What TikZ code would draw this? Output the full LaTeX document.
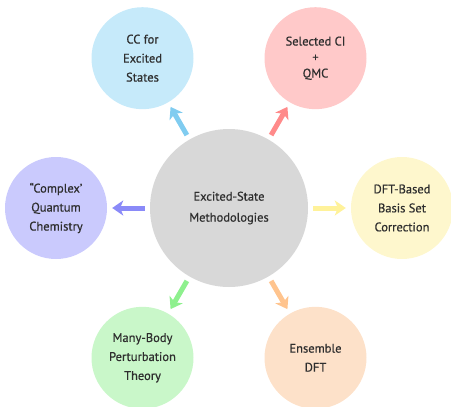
\documentclass[tikz,border=0pt]{standalone}
\usepackage{fontspec}
\setmainfont[FakeBold=0.6]{PT Sans}
\usetikzlibrary{arrows.meta}
\definecolor{centerfill}{HTML}{D8D8D8}
\definecolor{txt}{HTML}{2E2E2E}
\definecolor{bluefill}{HTML}{C6EAFA}
\definecolor{bluearr}{HTML}{80CCF0}
\definecolor{pinkfill}{HTML}{FFC9C9}
\definecolor{pinkarr}{HTML}{FF8A8A}
\definecolor{lavfill}{HTML}{CACAFD}
\definecolor{lavarr}{HTML}{8A8AF8}
\definecolor{yelfill}{HTML}{FEF7CD}
\definecolor{yelarr}{HTML}{FFF29A}
\definecolor{grnfill}{HTML}{C9F7C9}
\definecolor{grnarr}{HTML}{8EF08E}
\definecolor{pchfill}{HTML}{FDE1C9}
\definecolor{pcharr}{HTML}{FFC48E}
\begin{document}
\begin{tikzpicture}[x=1pt,y=-1pt,
  hub/.style={circle, fill=centerfill, minimum size=158pt, inner sep=0pt, align=center,
    text=txt, font=\fontsize{12.5}{21}\selectfont},
  sat/.style={circle, minimum size=102pt, inner sep=0pt, align=center,
    text=txt, font=\fontsize{12.5}{19}\selectfont},
  arr/.style={line width=5pt, -{Stealth[length=11pt,width=15pt,inset=3pt]},
    shorten <=5pt, shorten >=5pt}]
\useasboundingbox (0,0) rectangle (451,407);
\node[hub] (c) at (229,208) {Excited-State\\Methodologies};
\node[sat, fill=bluefill] (cc) at (142.5,58.2) {CC for\\Excited\\States};
\node[sat, fill=pinkfill] (sci) at (315.5,58.2) {Selected CI\\[-3pt]+\\[-3pt]QMC};
\node[sat, fill=lavfill] (cqc) at (56,208) {“Complex’\\Quantum\\Chemistry};
\node[sat, fill=yelfill] (dft) at (402,208) {DFT-Based\\Basis Set\\Correction};
\node[sat, fill=grnfill] (mbpt) at (142.5,357.8) {Many-Body\\Perturbation\\Theory};
\node[sat, fill=pchfill] (ens) at (315.5,357.8) {Ensemble\\DFT};
\draw[arr, bluearr] (c) -- (cc);
\draw[arr, pinkarr] (c) -- (sci);
\draw[arr, lavarr] (c) -- (cqc);
\draw[arr, yelarr] (c) -- (dft);
\draw[arr, grnarr] (c) -- (mbpt);
\draw[arr, pcharr] (c) -- (ens);
\end{tikzpicture}
\end{document}
